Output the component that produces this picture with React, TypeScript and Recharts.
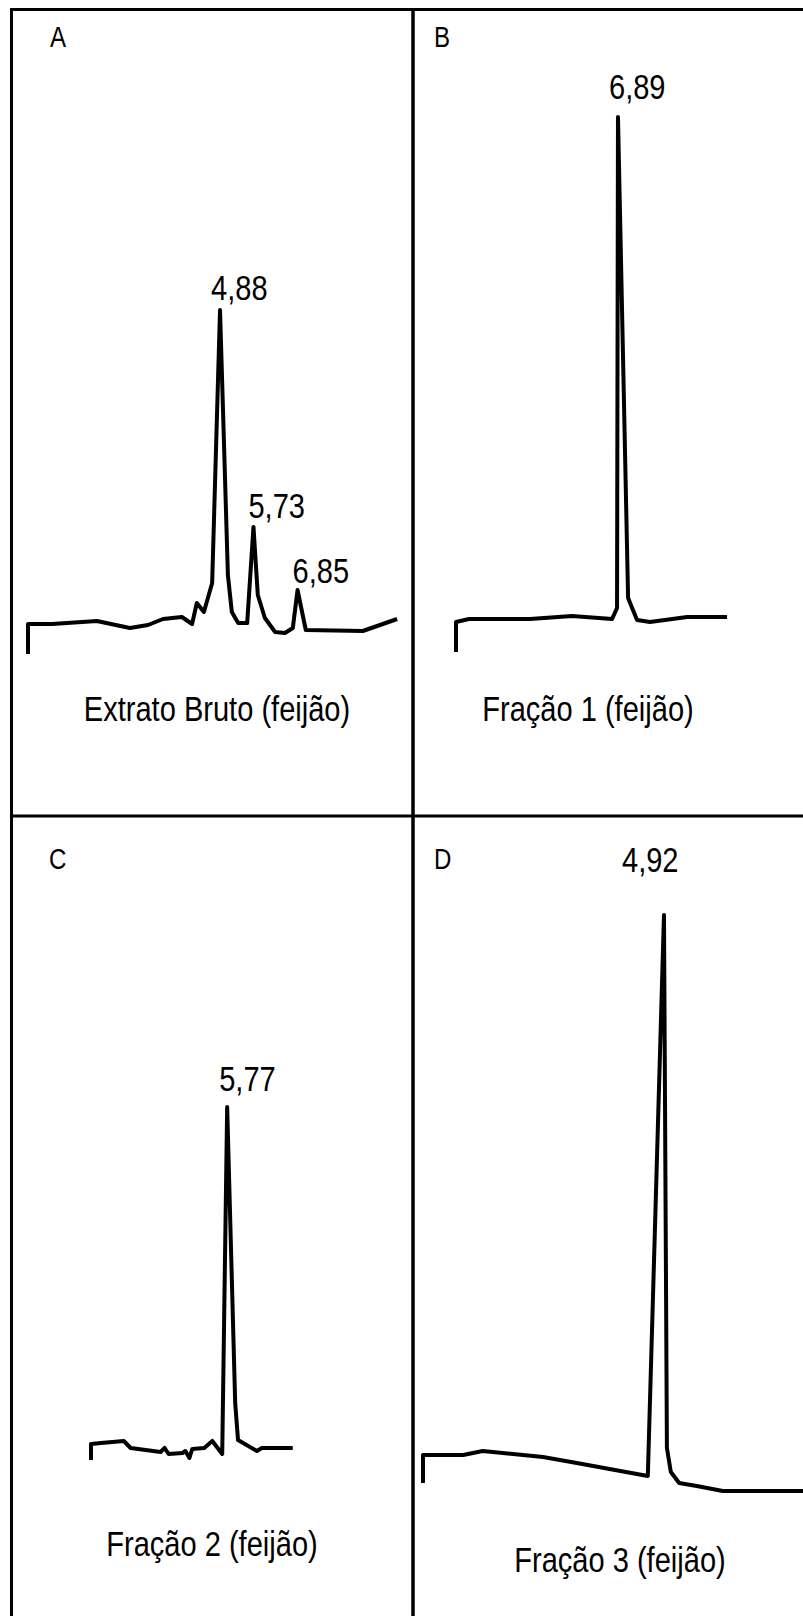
import React from 'react';
import { LineChart, Line, XAxis, YAxis } from 'recharts';

// Retention time (min) and detector signal (arbitrary units) for each run.
// The first two points of each trace are the injection marker at t = 0.
const timeA = [0, 0, 0.61, 1.75, 2.59, 3.05, 3.43, 3.91, 4.17, 4.29, 4.47, 4.68, 4.88, 5.08, 5.18, 5.34, 5.57, 5.73, 5.84, 6.02, 6.28, 6.53, 6.73, 6.85, 7.06, 8.51, 9.38];
const signalA = [0, 30, 30, 33, 26, 29, 35, 37, 30, 51, 42, 71, 344, 79, 42, 31, 31, 127, 59, 36, 22, 21, 26, 64, 24, 23, 35];

const timeB = [0, 0, 0.55, 3.15, 4.93, 6.64, 6.85, 6.89, 7.32, 7.70, 8.25, 9.83, 11.53];
const signalB = [0, 30, 33, 33, 36, 33, 44, 535, 54, 32, 30, 35, 35];

const timeC = [0, 0, 0.42, 1.39, 1.68, 2.95, 3.12, 3.29, 3.88, 4.00, 4.17, 4.29, 4.80, 5.14, 5.56, 5.77, 6.11, 6.23, 7.03, 7.24, 8.55];
const signalC = [0, 16, 17, 19, 12, 8, 12, 6, 7, 9, 2, 11, 12, 19, 6, 353, 57, 20, 9, 12, 12];

const timeD = [0, 0, 0.82, 1.22, 1.84, 2.45, 3.14, 4.59, 4.92, 4.98, 5.06, 5.23, 5.59, 6.12, 8.31];
const signalD = [0, 28, 28, 32, 29, 26, 20, 7, 568, 35, 11, 0, -3, -8, -8];

// Retention times that get a value label
const peaksA = [4.88, 5.73, 6.85];
const peaksB = [6.89];
const peaksC = [5.77];
const peaksD = [4.92];

const captions = ['Extrato Bruto (feijão)', 'Fração 1 (feijão)', 'Fração 2 (feijão)', 'Fração 3 (feijão)'];
const letters = ['A', 'B', 'C', 'D'];

const FONT = '"Liberation Sans", Arial, Helvetica, sans-serif';
const NARROW = 0.83; // horizontal squeeze to get a condensed face
const STROKE = 4;
const PAD = 6;
const LABEL_ROOM = 100; // space above / beside the trace for peak labels

type Pt = { t: number; s: number };

const toRows = (t: number[], s: number[]): Pt[] => t.map((v, i) => ({ t: v, s: s[i] }));

interface PanelSpec {
  rows: Pt[];
  peaks: number[];
  // pixel placement of t = 0 / s = 0 and scale factors
  x0: number;
  xScale: number;
  y0: number;
  yScale: number;
  labelOffsets: [number, number][];
  caption: string;
  captionX: number;
  captionY: number;
  letter: string;
  letterX: number;
  letterY: number;
}

const panels: PanelSpec[] = [
  {
    rows: toRows(timeA, signalA), peaks: peaksA,
    x0: 28, xScale: 39.35, y0: 654, yScale: 1,
    labelOffsets: [[-9, -10], [-5, -9], [-5, -7]],
    caption: captions[0], captionX: 217, captionY: 721,
    letter: letters[0], letterX: 50, letterY: 47,
  },
  {
    rows: toRows(timeB, signalB), peaks: peaksB,
    x0: 456, xScale: 23.51, y0: 652, yScale: 1,
    labelOffsets: [[-9, -18]],
    caption: captions[1], captionX: 588, captionY: 721,
    letter: letters[1], letterX: 434, letterY: 47,
  },
  {
    rows: toRows(timeC, signalC), peaks: peaksC,
    x0: 91, xScale: 23.6, y0: 1460, yScale: 1,
    labelOffsets: [[-8, -16]],
    caption: captions[2], captionX: 212, captionY: 1556,
    letter: letters[2], letterX: 49, letterY: 869,
  },
  {
    rows: toRows(timeD, signalD), peaks: peaksD,
    x0: 423, xScale: 48.98, y0: 1483, yScale: 1,
    labelOffsets: [[-42, -43]],
    caption: captions[3], captionX: 620, captionY: 1572,
    letter: letters[3], letterX: 434, letterY: 869,
  },
];

const fmt = (v: number) => v.toFixed(2).replace('.', ',');

const NarrowText: React.FC<{
  x: number;
  y: number;
  size: number;
  anchor?: 'start' | 'middle';
  children: React.ReactNode;
}> = ({ x, y, size, anchor = 'start', children }) => (
  <text
    transform={`translate(${x},${y}) scale(${NARROW},1)`}
    fontFamily={FONT}
    fontSize={size}
    textAnchor={anchor}
    fill="#000"
  >
    {children}
  </text>
);

const Trace: React.FC<{ p: PanelSpec }> = ({ p }) => {
  const ts = p.rows.map((r) => r.t);
  const ss = p.rows.map((r) => r.s);
  const tMin = Math.min(...ts);
  const tMax = Math.max(...ts);
  const sMin = Math.min(...ss);
  const sMax = Math.max(...ss);
  const margin = { top: LABEL_ROOM, right: LABEL_ROOM, bottom: PAD, left: LABEL_ROOM };
  const left = p.x0 + tMin * p.xScale - margin.left;
  const top = p.y0 - sMax * p.yScale - margin.top;
  const width = (tMax - tMin) * p.xScale + margin.left + margin.right;
  const height = (sMax - sMin) * p.yScale + margin.top + margin.bottom;

  const renderLabel = (props: any) => {
    const { x, y, index } = props;
    const row = p.rows[index];
    const k = p.peaks.indexOf(row.t);
    if (k < 0 || (index > 0 && p.rows[index - 1].t === row.t)) return <g key={`n${index}`} />;
    const [dx, dy] = p.labelOffsets[k];
    return (
      <g key={`l${index}`}>
        <NarrowText x={x + dx} y={y + dy} size={35}>
          {fmt(row.t)}
        </NarrowText>
      </g>
    );
  };

  return (
    <div style={{ position: 'absolute', left, top }}>
      <LineChart width={width} height={height} data={p.rows} margin={margin}>
        <XAxis dataKey="t" type="number" domain={[tMin, tMax]} hide />
        <YAxis type="number" domain={[sMin, sMax]} hide />
        <Line
          dataKey="s"
          stroke="#000"
          strokeWidth={STROKE}
          strokeLinejoin="round"
          dot={false}
          label={renderLabel}
          isAnimationActive={false}
        />
      </LineChart>
    </div>
  );
};

export default function App() {
  return (
    <div
      style={{
        position: 'fixed',
        left: 0,
        top: 0,
        width: 803,
        height: 1616,
        overflow: 'hidden',
        background: '#fff',
      }}
    >
      {panels.map((p) => (
        <Trace key={p.letter} p={p} />
      ))}
      <svg width={803} height={1616} style={{ position: 'absolute', left: 0, top: 0, pointerEvents: 'none' }}>
        <g stroke="#000" fill="none">
          <line x1={10} y1={9.5} x2={803} y2={9.5} strokeWidth={3} />
          <line x1={11.5} y1={8} x2={11.5} y2={1616} strokeWidth={3} />
          <line x1={413} y1={8} x2={413} y2={1616} strokeWidth={3.5} />
          <line x1={10} y1={816} x2={803} y2={816} strokeWidth={3} />
        </g>
        {panels.map((p) => (
          <g key={`t${p.letter}`}>
            <NarrowText x={p.letterX} y={p.letterY} size={29}>
              {p.letter}
            </NarrowText>
            <NarrowText x={p.captionX} y={p.captionY} size={35} anchor="middle">
              {p.caption}
            </NarrowText>
          </g>
        ))}
      </svg>
    </div>
  );
}
